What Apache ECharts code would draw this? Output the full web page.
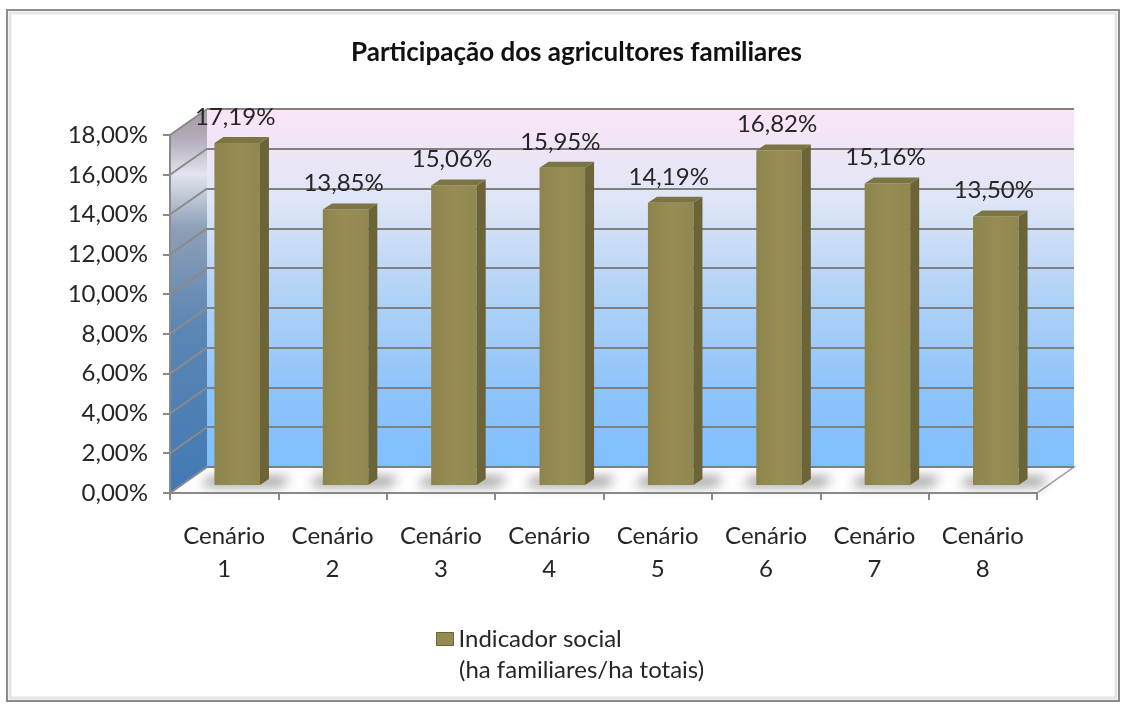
<!DOCTYPE html>
<html>
<head>
<meta charset="utf-8">
<script src="https://cdn.jsdelivr.net/npm/echarts@6/dist/echarts.min.js"></script>
<style>
  html, body { margin: 0; padding: 0; background: #fff; }
  #main { width: 1126px; height: 706px; }
</style>
</head>
<body>
<div id="main"></div>
<script>
// data
var categories = ['Cenário 1', 'Cenário 2', 'Cenário 3', 'Cenário 4',
                  'Cenário 5', 'Cenário 6', 'Cenário 7', 'Cenário 8'];
var values = [17.19, 13.85, 15.06, 15.95, 14.19, 16.82, 15.16, 13.50];
var yMin = 0, yMax = 18, yStep = 2;
var seriesName = 'Indicador social';
var legendSub = '(ha familiares/ha totais)';

// fake 3D: back wall is the front frame moved by (DX, DY)
var DX = 37, DY = -26;
var BAR_DX = 9, BAR_DY = -6;     // bar depth
var BAR_SHIFT_X = 13, BAR_SHIFT_Y = -8;
var FONT = 'Lato';

function pct(v) {
  return v.toFixed(2).replace('.', ',') + '%';
}

var chartDom = document.getElementById('main');
var myChart = echarts.init(chartDom);
var option;

option = {
  backgroundColor: '#fff',
  textStyle: { fontFamily: FONT },
  title: {
    text: 'Participação dos agricultores familiares',
    left: 346,
    top: 35,
    textStyle: { fontFamily: FONT, fontSize: 26, fontWeight: 'bold', color: '#111' }
  },
  legend: {
    data: [seriesName],
    left: 436,
    top: 627,
    padding: 0,
    icon: 'rect',
    itemWidth: 17,
    itemHeight: 13,
    itemGap: 8,
    itemStyle: { borderColor: '#6c6437', borderWidth: 1 },
    textStyle: { fontFamily: FONT, fontSize: 24, color: '#262626' }
  },
  grid: [
    {
      // back wall
      left: 170 + DX, top: 135 + DY, width: 867, height: 358,
      show: true, borderWidth: 0,
      backgroundColor: new echarts.graphic.LinearGradient(0, 0, 0, 1, [
        { offset: 0, color: '#fbe5f7' },
        { offset: 0.25, color: '#dfe6f7' },
        { offset: 0.5, color: '#b4d3f6' },
        { offset: 0.8, color: '#8cc3fb' },
        { offset: 1, color: '#80bfff' }
      ])
    },
    {
      // front frame with the axes
      left: 170, top: 135, width: 867, height: 358
    }
  ],
  xAxis: [
    { type: 'category', gridIndex: 0, data: categories, show: false },
    {
      type: 'category', gridIndex: 1, data: categories,
      axisLine: { lineStyle: { color: '#8a8a8a', width: 2 } },
      axisTick: { show: true, length: 7, lineStyle: { color: '#8a8a8a', width: 2 } },
      axisLabel: {
        margin: 27, fontFamily: FONT, fontSize: 24, color: '#262626', lineHeight: 33,
        formatter: function (v) { return v.replace(' ', '\n'); }
      }
    }
  ],
  yAxis: [
    {
      type: 'value', gridIndex: 0, min: yMin, max: yMax, interval: yStep,
      axisLine: { show: false }, axisTick: { show: false }, axisLabel: { show: false },
      splitLine: { lineStyle: { color: '#808080', width: 2 } }
    },
    {
      type: 'value', gridIndex: 1, min: yMin, max: yMax, interval: yStep,
      axisLine: { show: true, lineStyle: { color: '#8a8a8a', width: 2 } },
      axisTick: { show: true, length: 7, lineStyle: { color: '#8a8a8a', width: 2 } },
      axisLabel: {
        margin: 22, fontFamily: FONT, fontSize: 24, color: '#262626',
        formatter: function (v) { return pct(v); }
      },
      splitLine: { show: false }
    }
  ],
  series: [
    {
      name: seriesName,
      type: 'custom',
      xAxisIndex: 1,
      yAxisIndex: 1,
      itemStyle: { color: '#958b52' },
      data: values.map(function (v, i) { return [i, v]; }),
      renderItem: function (params, api) {
        var i = api.value(0), v = api.value(1);
        var top = api.coord([i, v]);
        var base = api.coord([i, 0]);
        var band = api.size([1, 0])[0];
        var w = band * 0.42;
        var cx = top[0] + BAR_SHIFT_X;
        var x0 = cx - w / 2, x1 = cx + w / 2;
        var yt = top[1] + BAR_SHIFT_Y, yb = base[1] + BAR_SHIFT_Y;
        var far = 3000; // soft shadow: shape drawn off screen, only its blur lands on the floor
        return {
          type: 'group',
          children: [
            {
              type: 'polygon',
              shape: { points: [[x0 - 14 - far, yb + 1], [x0 - 4 - far, yb - 8], [x1 + BAR_DX + 22 - far, yb - 8], [x1 + BAR_DX + 12 - far, yb + 1]] },
              style: {
                fill: '#000', shadowColor: 'rgba(70,70,70,0.6)',
                shadowBlur: 12, shadowOffsetX: far, shadowOffsetY: 0
              }
            },
            {
              type: 'rect',
              shape: { x: x0, y: yt, width: w, height: yb - yt },
              style: {
                fill: new echarts.graphic.LinearGradient(0, 0, 1, 0, [
                  { offset: 0, color: '#8d844d' },
                  { offset: 0.5, color: '#978d55' },
                  { offset: 1, color: '#918750' }
                ])
              }
            },
            {
              type: 'polygon',
              shape: { points: [[x1, yt], [x1 + BAR_DX, yt + BAR_DY], [x1 + BAR_DX, yb + BAR_DY], [x1, yb]] },
              style: { fill: '#6c6437' }
            },
            {
              type: 'polygon',
              shape: { points: [[x0, yt], [x0 + BAR_DX, yt + BAR_DY], [x1 + BAR_DX, yt + BAR_DY], [x1, yt]] },
              style: { fill: '#7d7443' }
            },
            {
              type: 'text',
              style: {
                text: pct(v), x: cx - 2, y: yt + BAR_DY - 8,
                align: 'center', verticalAlign: 'bottom',
                font: '24px ' + FONT, fill: '#262626'
              }
            }
          ]
        };
      }
    }
  ]
};

myChart.setOption(option);

// walls: side wall, floor and the side-wall grid lines, placed with the axes
var frontY = [], backY = [];
for (var t = yMin; t <= yMax; t += yStep) {
  frontY.push(myChart.convertToPixel({ yAxisIndex: 1 }, t));
  backY.push(myChart.convertToPixel({ yAxisIndex: 0 }, t));
}
var L = 170, R = 170 + 867;
var y0f = frontY[0], yTopF = frontY[frontY.length - 1];
var y0b = backY[0], yTopB = backY[backY.length - 1];

var graphics = [
  {
    type: 'rect', z: -10,
    shape: { x: 7, y: 10, width: 1112, height: 691 },
    style: { fill: 'none', stroke: '#8c8c8c', lineWidth: 2 }
  },
  {
    type: 'rect', z: -10,
    shape: { x: 10, y: 13, width: 1106, height: 685 },
    style: { fill: 'none', stroke: '#e6e6e6', lineWidth: 3 }
  },
  {
    type: 'polygon', z: -5,
    shape: { points: [[L, y0f], [L, yTopF], [L + DX, yTopB], [L + DX, y0b]] },
    style: {
      fill: new echarts.graphic.LinearGradient(0, 0, 0, 1, [
        { offset: 0, color: '#a7989f' },
        { offset: 0.08, color: '#b4adbb' },
        { offset: 0.17, color: '#e2e4ee' },
        { offset: 0.31, color: '#8e9fb6' },
        { offset: 0.57, color: '#5b86b4' },
        { offset: 1, color: '#4279b4' }
      ])
    }
  },
  {
    type: 'polygon', z: -5,
    shape: { points: [[L, y0f], [L + DX, y0b], [R + DX, y0b], [R, y0f]] },
    style: { fill: '#ffffff', stroke: '#9a9a9a', lineWidth: 1.5 }
  },
  {
    type: 'text', z: 5,
    left: 459, top: 658,
    style: { text: legendSub, font: '24px ' + FONT, fill: '#262626' }
  }
];
for (var k = 0; k < frontY.length; k++) {
  graphics.push({
    type: 'line', z: -4,
    shape: { x1: L, y1: frontY[k], x2: L + DX, y2: backY[k] },
    style: { stroke: '#8a8a8a', lineWidth: 2 }
  });
}
myChart.setOption({ graphic: graphics });
</script>
</body>
</html>
